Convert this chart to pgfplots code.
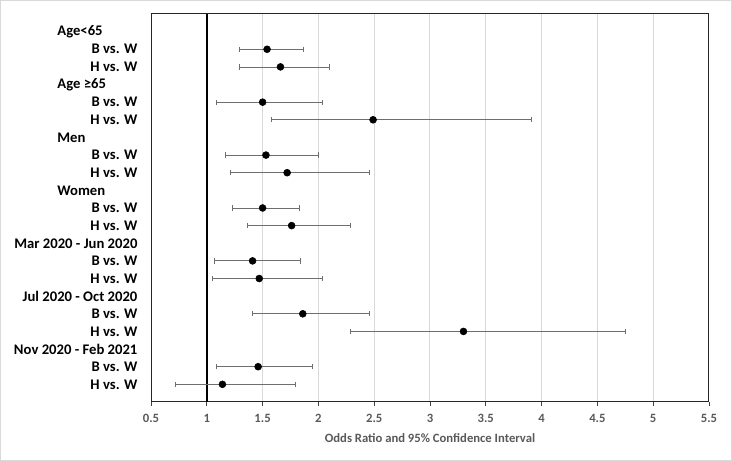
\documentclass[border=0pt]{standalone}
\usepackage{fontspec}
\setmainfont{Carlito}
\usepackage{pgfplots}
\pgfplotsset{compat=1.18}
\usepackage{pgfplotstable}

\definecolor{txtgray}{HTML}{595959}
\definecolor{gridgray}{HTML}{D9D9D9}
\definecolor{errgray}{HTML}{6E6E6E}

% row  OR   lower upper
\pgfplotstableread{
row or   lo   hi
2   1.54 1.29 1.87
3   1.66 1.29 2.10
5   1.50 1.09 2.04
6   2.49 1.58 3.91
8   1.53 1.17 2.00
9   1.72 1.21 2.46
11  1.50 1.23 1.83
12  1.76 1.36 2.29
14  1.41 1.07 1.84
15  1.47 1.05 2.04
17  1.86 1.41 2.46
18  3.30 2.29 4.75
20  1.46 1.09 1.95
21  1.14 0.72 1.79
}\ortable

\newcommand{\hdr}[1]{\makebox[60pt][l]{#1}}

\begin{document}
\begin{tikzpicture}
% outer frame of the chart area
\draw[gridgray, line width=0.75pt] (-112.9pt,-43.9pt) rectangle (435.4pt,301.1pt);
\useasboundingbox (-113.25pt,-44.25pt) rectangle (435.75pt,301.5pt);
\begin{axis}[
  scale only axis,
  width=418.5pt, height=291pt,
  xmin=0.5, xmax=5.5,
  ymin=0, ymax=22, y dir=reverse,
  xtick={0.5,1,...,5.5},
  xtick pos=bottom,
  xticklabel style={font=\bfseries\fontsize{9.5}{11}\selectfont, text=txtgray, yshift=-3pt},
  /pgf/number format/assume math mode=true,
  /pgf/number format/.cd, fixed, precision=1, /pgfplots/.cd,
  ytick={1,...,21},
  yticklabels={\hdr{Age<65}, B vs. W, H vs. W,
               \hdr{Age ≥65}, B vs. W, H vs. W,
               \hdr{Men}, B vs. W, H vs. W,
               \hdr{Women}, B vs. W, H vs. W,
               Mar 2020 - Jun 2020, B vs. W, H vs. W,
               Jul 2020 - Oct 2020, B vs. W, H vs. W,
               Nov 2020 - Feb 2021, B vs. W, H vs. W},
  yticklabel style={font=\bfseries\fontsize{11}{12}\selectfont, text=black, inner sep=0pt, xshift=-7pt},
  ytick style={draw=none},
  xtick style={black!75, line width=0.6pt},
  tick align=outside,
  major tick length=3pt,
  xmajorgrids,
  grid style={gridgray, line width=0.75pt},
  axis line style={black!85, line width=0.75pt},
  xlabel={Odds Ratio and 95\% Confidence Interval},
  xlabel style={font=\bfseries\fontsize{9.5}{11}\selectfont, text=txtgray, yshift=-1pt},
  clip=false,
]
\addplot[black, line width=1.5pt, forget plot] coordinates {(1,0) (1,22)};
\addplot[
  only marks, mark=*, mark size=2.6pt, black,
  error bars/.cd,
    x dir=both, x explicit,
    error mark=|,
    error mark options={errgray, mark size=2pt, line width=0.6pt},
    error bar style={errgray, line width=0.6pt},
] table[
  x=or, y=row,
  x error plus expr=\thisrow{hi}-\thisrow{or},
  x error minus expr=\thisrow{or}-\thisrow{lo},
] {\ortable};
\end{axis}
\end{tikzpicture}
\end{document}
